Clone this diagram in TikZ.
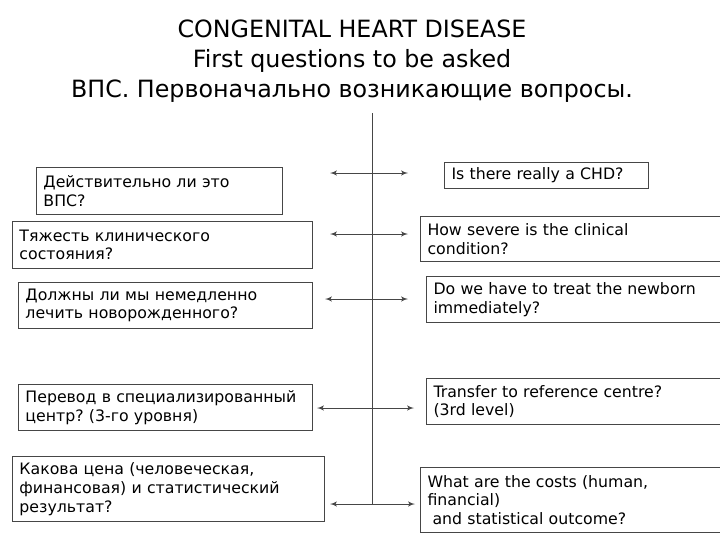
\documentclass[tikz,border=0pt]{standalone}
\usepackage{fontspec}
\setmainfont{DejaVu Sans}
\frenchspacing
\usetikzlibrary{arrows}
\definecolor{monGris}{RGB}{70,70,70}
\tikzstyle{question} = [draw=monGris, rectangle, anchor=north west, align=left, inner xsep=0.175cm, inner ysep=0pt, font=\fontsize{11.2}{13.3}\selectfont]
\tikzstyle{titre} = [align=center, font=\fontsize{16.9}{21.3}\selectfont]

\begin{document}
\begin{tikzpicture}[x=0.025cm, y=-0.025cm, >=latex', line width=0.7pt]
    \useasboundingbox (0,0) rectangle (720,540);
    \node [titre] (titre) at (352,61) {CONGENITAL HEART DISEASE\\First questions to be asked\\ВПС. Первоначально возникающие вопросы.};

    % questions en russe
    \node [question, minimum width=6.15cm, minimum height=1.175cm, text width=5.8cm] (vrai_ru) at (36,167) {Действительно ли это\\ВПС?};
    \node [question, minimum width=7.5cm, minimum height=1.175cm, text width=7.15cm] (grave_ru) at (12,221) {Тяжесть клинического\\состояния?};
    \node [question, minimum width=7.35cm, minimum height=1.15cm, text width=7cm] (traiter_ru) at (18,282) {Должны ли мы немедленно\\лечить новорожденного?};
    \node [question, minimum width=7.35cm, minimum height=1.15cm, text width=7cm] (transfert_ru) at (18,384) {Перевод в специализированный\\центр? (3-го уровня)};
    \node [question, minimum width=7.8cm, minimum height=1.625cm, text width=7.45cm] (cout_ru) at (12,456) {Какова цена (человеческая,\\финансовая) и статистический\\результат?};

    % questions en anglais
    \node [question, minimum width=5.1cm, minimum height=0.65cm, text width=4.75cm] (vrai_en) at (444,162) {Is there really a CHD?};
    \node [question, minimum width=7.49cm, minimum height=1.125cm, text width=7.14cm] (grave_en) at (420,216) {How severe is the clinical\\condition?};
    \node [question, minimum width=7.34cm, minimum height=1.15cm, text width=6.99cm] (traiter_en) at (426,276) {Do we have to treat the newborn\\immediately?};
    \node [question, minimum width=7.34cm, minimum height=1.15cm, text width=6.99cm] (transfert_en) at (426,378) {Transfer to reference centre?\\(3rd level)};
    \node [question, minimum width=7.49cm, minimum height=1.625cm, text width=7.14cm] (cout_en) at (420,467) {What are the costs (human,\\financial)\\\hspace*{0.32em}and statistical outcome?};

    \coordinate (haut) at (372,113);
    \coordinate (bas) at (372,504);
    \draw [monGris] (haut) -- (bas);

    \coordinate (g1) at (330,173);  \coordinate (d1) at (408,173);
    \coordinate (g2) at (330,234);  \coordinate (d2) at (408,234);
    \coordinate (g3) at (325,299);  \coordinate (d3) at (408,299);
    \coordinate (g4) at (317,408);  \coordinate (d4) at (414,408);
    \coordinate (g5) at (330,504);  \coordinate (d5) at (415,504);
    \foreach \i in {1,...,5}
        \draw [<->, monGris] (g\i) -- (d\i);
\end{tikzpicture}
\end{document}
